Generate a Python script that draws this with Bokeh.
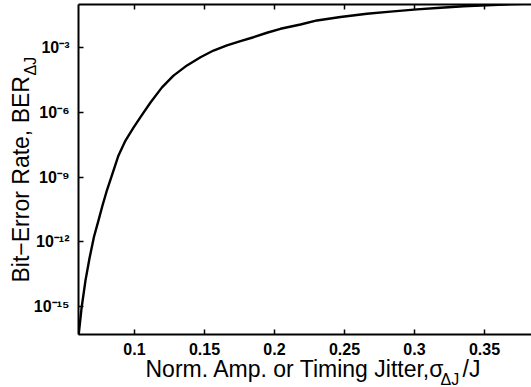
from bokeh.plotting import figure
from bokeh.models import Range1d, FixedTicker, LinearAxis, Title
from bokeh.embed import file_html
from bokeh.resources import INLINE

# ---- data ----
jitter = [0.0600, 0.06214, 0.0650, 0.06786, 0.07107, 0.07429, 0.07714, 0.0800,
          0.08357, 0.08857, 0.09357, 0.09929, 0.1050, 0.11143, 0.11964, 0.12786,
          0.1375, 0.14714, 0.15643, 0.16607, 0.17571, 0.1850, 0.19464, 0.20429,
          0.21857, 0.23036, 0.24714, 0.26607, 0.28286, 0.30179, 0.31857, 0.3350,
          0.38357]
ber = [4.0e-17, 7.9e-16, 1.6e-14, 1.7e-13, 1.7e-12, 9.8e-12, 4.8e-11, 2.1e-10,
       1.07e-9, 1.02e-8, 5.0e-8, 2.0e-7, 7.2e-7, 2.95e-6, 1.48e-5, 5.2e-5,
       1.55e-4, 3.7e-4, 7.6e-4, 1.32e-3, 2.1e-3, 3.16e-3, 5.1e-3, 7.8e-3,
       1.23e-2, 1.9e-2, 2.75e-2, 3.9e-2, 4.9e-2, 6.2e-2, 7.4e-2, 8.7e-2, 0.117]

x_ticks = [0.1, 0.15, 0.2, 0.25, 0.3, 0.35]
x_tick_labels = ["0.1", "0.15", "0.2", "0.25", "0.3", "0.35"]
y_ticks = [1e-15, 1e-12, 1e-9, 1e-6, 1e-3]
y_tick_labels = ["10\u207b\u00b9\u2075", "10\u207b\u00b9\u00b2", "10\u207b\u2079",
                 "10\u207b\u2076", "10\u207b\u00b3"]

NBSP = "\u00a0"
x_title = "Norm. Amp. or Timing Jitter,\u03c3" + NBSP * 3 + "/J"
x_title_sub = "\u0394J"
y_title = "Bit\u2212Error Rate, BER"
y_title_sub = "\u0394J"

X_START, X_END = 0.06, 0.3836
LOGY_START, LOGY_END = -16.31, -0.98
FONT = "Liberation Sans"

p = figure(width=531, height=387, y_axis_type="log",
           x_range=Range1d(X_START, X_END),
           y_range=Range1d(10 ** LOGY_START, 10 ** LOGY_END),
           output_backend="svg", toolbar_location=None,
           min_border_left=78, min_border_right=0,
           min_border_top=4, min_border_bottom=53)
p.background_fill_color = "white"
p.border_fill_color = "white"
p.outline_line_color = None
p.xgrid.visible = False
p.ygrid.visible = False

p.line(jitter, ber, line_width=2.4, line_color="black", line_join="round")


def style_axis(ax):
    ax.axis_line_width = 2
    ax.axis_line_color = "black"
    ax.major_tick_in = 5
    ax.major_tick_out = 0
    ax.major_tick_line_width = 1.5
    ax.major_tick_line_color = "black"
    ax.minor_tick_line_color = None
    ax.major_label_text_font = FONT
    ax.major_label_text_font_style = "bold"
    ax.major_label_text_font_size = "16px"
    ax.major_label_text_color = "black"
    ax.major_label_standoff = 8


xa = p.xaxis[0]
style_axis(xa)
xa.ticker = FixedTicker(ticks=x_ticks)
xa.major_label_overrides = dict(zip(x_ticks, x_tick_labels))

ya = p.yaxis[0]
style_axis(ya)
ya.ticker = FixedTicker(ticks=y_ticks)
ya.major_label_overrides = dict(zip(y_ticks, y_tick_labels))
ya.major_label_standoff = 9

# top frame edge with inward ticks, no labels
top = LinearAxis(ticker=FixedTicker(ticks=x_ticks))
style_axis(top)
top.major_label_overrides = {t: "" for t in x_ticks}
top.major_label_text_font_size = "1px"
top.major_label_standoff = 0
p.add_layout(top, "above")


def title(text, size, offset, standoff):
    return Title(text=text, align="left", vertical_align="middle",
                 offset=offset, standoff=standoff,
                 text_font=FONT, text_font_size=size,
                 text_font_style="normal", text_color="black")


# x-axis title: main line, then its subscript (zero-height band)
p.add_layout(title(x_title, "23px", 67, -6), "below")
p.add_layout(title(x_title_sub, "16px", 362, -20), "below")

# y-axis title: subscript band (zero height) next to the axis, then main line
p.add_layout(title(y_title_sub, "16px", 259, -20), "left")
p.add_layout(title(y_title, "23px", 52, -9), "left")

open("out.html", "w").write(file_html(p, INLINE))
